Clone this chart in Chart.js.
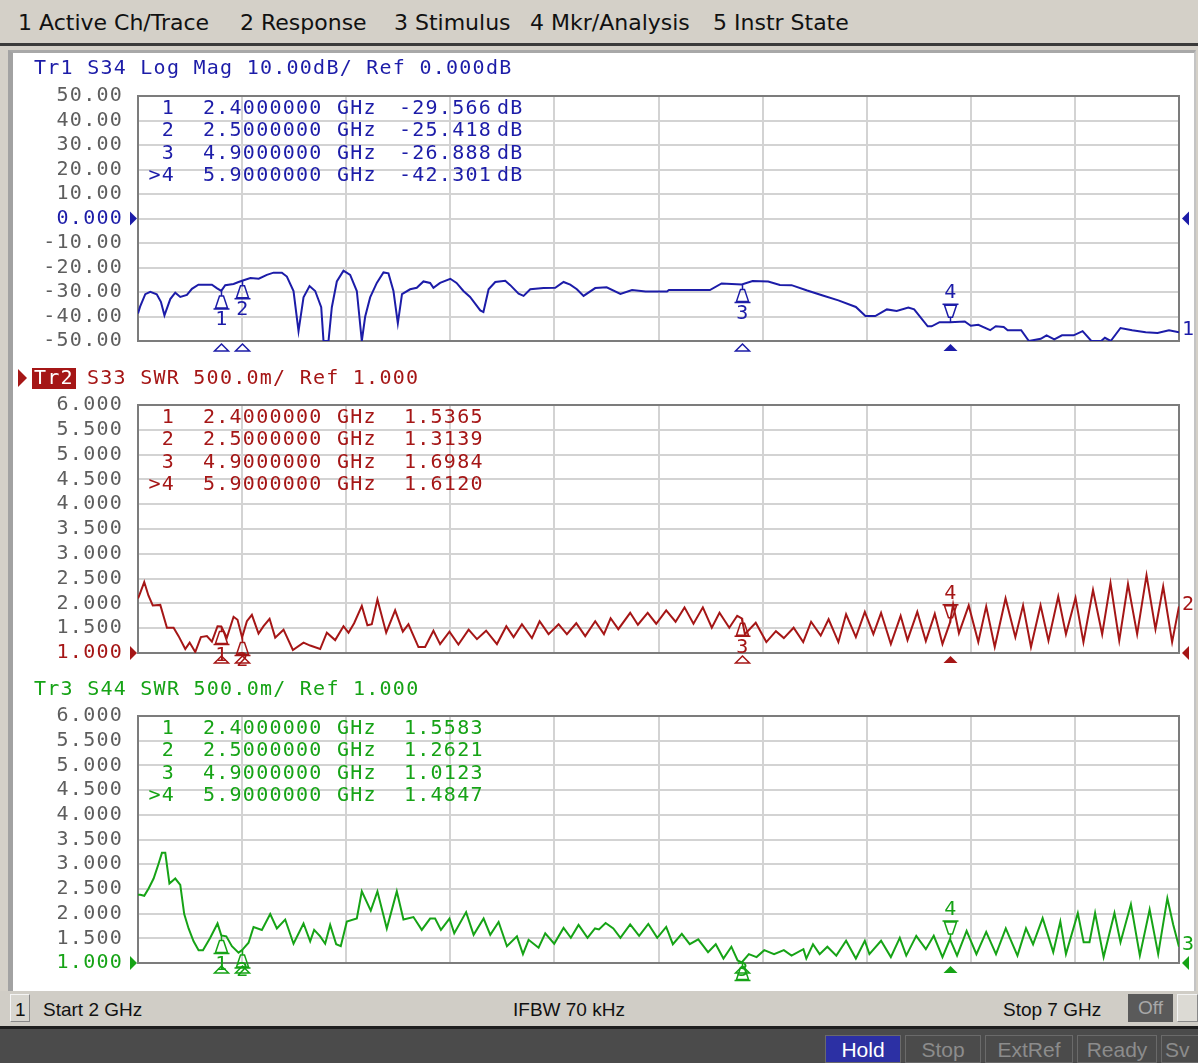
<!DOCTYPE html>
<html>
<head>
<meta charset="utf-8">
<script src="https://cdn.jsdelivr.net/npm/chart.js@4.4.1/dist/chart.umd.min.js"></script>
<style>
  html, body { margin: 0; padding: 0; }
  body { width: 1198px; height: 1063px; overflow: hidden; position: relative; background: #d4d0c8; }
  #menu { position: absolute; left: 0; top: 0; width: 1198px; height: 43px; background: #d4d0c8;
          font: 22px "DejaVu Sans", sans-serif; color: #111; }
  #menu span { position: absolute; top: 10px; white-space: nowrap; letter-spacing: 0px; }
  #menuLine { position: absolute; left: 0; top: 43px; width: 1198px; height: 3px; background: #3a3a3a; }
  #screen { position: absolute; left: 8px; top: 50px; width: 1188px; height: 941px; background: #fff;
            box-sizing: border-box; border-left: 5px solid #a2a2a2; border-top: 3px solid #a8a8a8; border-right: 2px solid #c4c4c4; }
  canvas { position: absolute; left: 0; }
  #status { position: absolute; left: 0; top: 991px; width: 1198px; height: 35px; background: #d0cdc6;
            font: 19px "Liberation Sans Narrow", "Liberation Sans", sans-serif; color: #111; }
  #status .t { position: absolute; top: 8px; white-space: nowrap; }
  #chBox { position: absolute; left: 10px; top: 3px; width: 20px; height: 28px; box-sizing: border-box;
           border: 1px solid #f4f4f4; border-right-color: #888; border-bottom-color: #888; background: #d8d6d0; }
  #offBox { position: absolute; left: 1128px; top: 3px; width: 45px; height: 28px; background: #5a5a5a; color: #a8a8a8;
            text-align: center; line-height: 28px; }
  #endBox { position: absolute; left: 1177px; top: 3px; width: 21px; height: 28px; box-sizing: border-box;
            border: 1px solid #f4f4f4; border-right-color: #888; border-bottom-color: #888; background: #dcdad4; }
  #barLine { position: absolute; left: 0; top: 1026px; width: 1198px; height: 3px; background: #1e1e1e; }
  #bar { position: absolute; left: 0; top: 1029px; width: 1198px; height: 34px; background: #4b4b4b;
         font: 21px "Liberation Sans Narrow", "Liberation Sans", sans-serif; }
  #bar div { position: absolute; top: 6px; height: 28px; line-height: 28px; text-align: center; box-sizing: border-box; }
  .dim { color: #8c8c8c; border: 1px solid #6a6a6a; }
</style>
</head>
<body>
<div id="menu">
  <span style="left:18px">1 Active Ch/Trace</span>
  <span style="left:240px">2 Response</span>
  <span style="left:394px">3 Stimulus</span>
  <span style="left:530px">4 Mkr/Analysis</span>
  <span style="left:713px">5 Instr State</span>
</div>
<div id="menuLine"></div>
<div id="screen"></div>
<canvas id="c1" width="1198" height="316" style="top:52px"></canvas>
<canvas id="c2" width="1198" height="312" style="top:368px"></canvas>
<canvas id="c3" width="1198" height="310" style="top:680px"></canvas>
<div id="status">
  <div id="chBox"></div>
  <div class="t" style="left:15px">1</div>
  <div class="t" style="left:43px">Start 2 GHz</div>
  <div class="t" style="left:513px">IFBW 70 kHz</div>
  <div class="t" style="left:1003px">Stop 7 GHz</div>
  <div id="offBox">Off</div>
  <div id="endBox"></div>
</div>
<div id="barLine"></div>
<div id="bar">
  <div style="left:825px;width:76px;background:#2c30a4;color:#fff;border:1px solid #6a6a6a">Hold</div>
  <div class="dim" style="left:905px;width:76px">Stop</div>
  <div class="dim" style="left:985px;width:88px">ExtRef</div>
  <div class="dim" style="left:1077px;width:80px">Ready</div>
  <div class="dim" style="left:1161px;width:60px;text-align:left;padding-left:3px">Sv</div>
</div>

<script>
// ---- Trace data: frequency (GHz) and measured value ----
const s34Freq = [2.000,2.010,2.035,2.059,2.090,2.110,2.127,2.155,2.179,2.203,2.235,2.259,2.290,2.355,2.380,2.400,2.419,2.459,2.480,2.500,
  2.540,2.580,2.619,2.651,2.691,2.715,2.747,2.771,2.795,2.824,2.851,2.880,2.891,2.915,2.931,2.955,2.987,3.019,3.051,3.075,
  3.091,3.115,3.147,3.179,3.203,3.227,3.248,3.268,3.307,3.339,3.371,3.403,3.419,3.451,3.500,3.530,3.563,3.595,3.644,3.659,
  3.684,3.716,3.764,3.788,3.828,3.852,3.884,3.948,4.004,4.044,4.076,4.108,4.140,4.196,4.251,4.317,4.373,4.438,4.541,4.550,
  4.747,4.803,4.900,4.952,5.027,5.083,5.139,5.214,5.289,5.364,5.448,5.494,5.541,5.597,5.644,5.700,5.728,5.793,5.812,5.850,
  5.900,5.971,6.000,6.036,6.093,6.120,6.158,6.177,6.242,6.279,6.336,6.364,6.401,6.438,6.494,6.537,6.579,6.626,6.644,6.672,
  6.719,6.775,6.840,6.897,6.952,7.000];
const s34LogMag = [-38.8,-36.0,-30.9,-29.9,-30.9,-34.0,-39.5,-32.9,-30.3,-32.0,-31.2,-28.7,-27.0,-27.0,-28.5,-29.566,-27.2,-26.7,-26.0,-25.418,
  -24.3,-24.6,-23.0,-22.1,-22.1,-23.7,-29.6,-46.0,-32.2,-27.6,-29.6,-36.2,-50.0,-50.0,-36.2,-25.7,-21.3,-23.0,-29.6,-50.0,
  -40.1,-32.2,-26.3,-22.0,-22.4,-29.6,-42.8,-30.9,-28.9,-28.3,-25.7,-26.3,-28.3,-26.3,-24.6,-26.3,-29.6,-32.0,-37.5,-38.2,
  -28.9,-25.9,-25.4,-27.2,-30.7,-31.6,-28.9,-28.4,-28.3,-25.9,-27.0,-28.9,-31.6,-28.4,-28.1,-30.8,-29.2,-29.8,-29.8,-29.2,
  -29.2,-26.5,-26.888,-25.5,-25.7,-27.1,-27.2,-29.4,-31.4,-33.4,-36.1,-39.8,-39.8,-37.1,-37.7,-36.3,-37.1,-44.0,-44.0,-42.3,
  -42.301,-42.0,-43.8,-43.4,-45.6,-44.0,-44.3,-45.6,-45.6,-50.0,-49.1,-47.7,-49.3,-47.7,-47.7,-46.0,-50.0,-50.0,-48.7,-50.0,
  -44.7,-45.6,-46.4,-46.7,-45.6,-46.4];

const s33Freq = [2.000,2.007,2.030,2.050,2.071,2.107,2.139,2.171,2.195,2.227,2.248,2.275,2.302,2.331,2.355,2.382,2.400,2.427,2.459,2.478,
  2.500,2.523,2.547,2.579,2.603,2.632,2.659,2.699,2.744,2.795,2.827,2.875,2.907,2.947,2.987,3.011,3.038,3.075,3.102,3.123,
  3.150,3.192,3.235,3.272,3.299,3.347,3.379,3.419,3.451,3.496,3.539,3.588,3.628,3.672,3.724,3.769,3.804,3.844,3.892,3.929,
  3.972,4.020,4.060,4.105,4.148,4.196,4.238,4.270,4.307,4.364,4.401,4.448,4.489,4.537,4.582,4.625,4.668,4.713,4.756,4.793,
  4.840,4.878,4.900,4.915,4.967,5.018,5.064,5.102,5.149,5.195,5.233,5.279,5.317,5.364,5.401,5.448,5.491,5.532,5.569,5.616,
  5.663,5.696,5.743,5.784,5.827,5.864,5.900,5.915,5.943,5.990,6.036,6.074,6.115,6.167,6.214,6.251,6.289,6.335,6.373,6.420,
  6.457,6.503,6.541,6.587,6.631,6.671,6.713,6.755,6.799,6.844,6.887,6.924,6.967,7.000];
const s33Swr = [2.10,2.17,2.43,2.16,1.96,1.97,1.51,1.51,1.34,1.08,1.21,1.02,1.32,1.34,1.23,1.54,1.5365,1.31,1.73,1.67,
  1.3139,1.64,1.77,1.39,1.54,1.69,1.31,1.47,1.06,1.21,1.15,1.08,1.41,1.26,1.54,1.41,1.60,1.95,1.56,1.58,
  2.08,1.41,1.86,1.43,1.58,1.12,1.12,1.45,1.18,1.43,1.17,1.47,1.28,1.45,1.18,1.54,1.32,1.58,1.30,1.64,
  1.38,1.58,1.38,1.60,1.34,1.64,1.38,1.70,1.48,1.81,1.57,1.81,1.59,1.86,1.63,1.92,1.59,1.92,1.51,1.81,
  1.51,1.75,1.6984,1.38,1.61,1.22,1.44,1.30,1.51,1.22,1.63,1.35,1.68,1.22,1.78,1.32,1.83,1.38,1.81,1.18,
  1.75,1.26,1.83,1.24,1.79,1.18,1.612,1.98,1.40,1.96,1.22,1.94,1.12,2.10,1.32,1.96,1.12,1.96,1.25,2.14,
  1.38,2.11,1.22,2.27,1.38,2.41,1.25,2.39,1.38,2.57,1.48,2.34,1.22,1.94];

const s44Freq = [2.000,2.011,2.030,2.051,2.075,2.098,2.115,2.131,2.151,2.179,2.203,2.222,2.243,2.267,2.291,2.312,2.347,2.382,2.400,2.424,
  2.451,2.483,2.500,2.531,2.555,2.595,2.635,2.667,2.707,2.747,2.795,2.827,2.846,2.875,2.899,2.923,2.952,2.974,3.003,3.051,
  3.075,3.118,3.150,3.195,3.243,3.275,3.323,3.363,3.403,3.427,3.455,3.496,3.519,3.576,3.612,3.660,3.692,3.732,3.772,3.820,
  3.849,3.876,3.924,3.956,3.999,4.044,4.079,4.116,4.159,4.195,4.214,4.246,4.283,4.317,4.364,4.407,4.451,4.494,4.537,4.569,
  4.612,4.650,4.691,4.738,4.775,4.812,4.850,4.880,4.900,4.934,4.971,5.008,5.055,5.102,5.139,5.196,5.210,5.242,5.274,5.311,
  5.354,5.401,5.448,5.491,5.513,5.569,5.616,5.659,5.690,5.738,5.784,5.822,5.864,5.900,5.934,5.980,6.027,6.074,6.121,6.168,
  6.224,6.265,6.299,6.345,6.396,6.430,6.457,6.514,6.542,6.570,6.597,6.638,6.690,6.719,6.769,6.812,6.859,6.900,6.944,6.972,
  7.000];
const s44Swr = [2.38,2.38,2.36,2.51,2.71,3.00,3.23,3.23,2.61,2.71,2.58,1.99,1.70,1.44,1.26,1.26,1.51,1.80,1.5583,1.54,
  1.34,1.21,1.2621,1.41,1.73,1.67,1.99,1.70,1.88,1.39,1.80,1.44,1.67,1.54,1.39,1.77,1.38,1.34,1.84,1.90,
  2.45,2.06,2.45,1.70,2.45,1.88,1.93,1.67,1.90,1.90,1.67,1.90,1.60,2.03,1.57,1.90,1.57,1.83,1.34,1.54,
  1.18,1.47,1.31,1.60,1.39,1.71,1.51,1.77,1.51,1.70,1.68,1.81,1.70,1.51,1.78,1.55,1.79,1.51,1.73,1.38,
  1.59,1.38,1.48,1.22,1.38,1.09,1.33,1.05,1.0123,1.18,1.12,1.26,1.18,1.26,1.15,1.28,1.09,1.38,1.18,1.33,
  1.15,1.45,1.09,1.45,1.18,1.45,1.12,1.51,1.15,1.55,1.28,1.55,1.12,1.4847,1.15,1.65,1.18,1.63,1.18,1.70,
  1.15,1.70,1.38,1.91,1.22,1.84,1.18,2.01,1.42,1.42,2.01,1.12,2.01,1.42,2.19,1.15,2.08,1.18,2.31,1.78,
  1.33];

// ---- Markers ----
const markerNames = ['1', '2', '3', '>4'];
const markerFreqs = [2.4, 2.5, 4.9, 5.9];
const s34Markers = [-29.566, -25.418, -26.888, -42.301];
const s33Markers = [1.5365, 1.3139, 1.6984, 1.6120];
const s44Markers = [1.5583, 1.2621, 1.0123, 1.4847];

// ---- Axis settings ----
const freqStart = 2, freqStop = 7, freqDiv = 0.5;
const logMagTicks = { min: -50, max: 50, step: 10, ref: 0 };
const swrTicks = { min: 1, max: 6, step: 0.5, ref: 1 };

const MONO = '20px "DejaVu Sans Mono", monospace';
const SPACING = '1.25px';
const BLUE = '#1c1ca8', RED = '#a51616', GREEN = '#16a316', TICKGREY = '#5e5e5e';

function toPoints(xs, ys) { return xs.map((x, i) => ({ x: x, y: ys[i] })); }

function tri(ctx, pts, fill) {
  ctx.beginPath();
  ctx.moveTo(pts[0][0], pts[0][1]);
  for (let i = 1; i < pts.length; i++) ctx.lineTo(pts[i][0], pts[i][1]);
  ctx.closePath();
  if (fill) ctx.fill(); else ctx.stroke();
}

// Draws the analyzer decorations: frame, title, marker table, marker glyphs, reference arrows
const vnaPlugin = {
  id: 'vna',
  beforeDraw(chart) {
    chart.ctx.letterSpacing = SPACING;
  },
  beforeDatasetsDraw(chart) {
    const { ctx, chartArea: a } = chart;
    ctx.save();
    ctx.strokeStyle = '#7c7c7c';
    ctx.lineWidth = 2;
    ctx.strokeRect(a.left, a.top, a.right - a.left, a.bottom - a.top);
    ctx.restore();
  },
  afterDatasetsDraw(chart, args, o) {
    const { ctx, chartArea: a } = chart;
    const xs = chart.scales.x, ys = chart.scales.y;
    const cw = 13.25;
    ctx.save();
    ctx.letterSpacing = SPACING;
    ctx.font = MONO;
    ctx.textBaseline = 'middle';
    ctx.fillStyle = o.color;
    ctx.strokeStyle = o.color;

    // title line
    let tx = 34;
    if (o.active) {
      tri(ctx, [[18, o.titleY - 9], [27, o.titleY], [18, o.titleY + 9]], true);
      ctx.fillRect(32, o.titleY - 11, 44, 22);
      ctx.fillStyle = '#fff';
      ctx.textAlign = 'left';
      ctx.fillText(o.trace, tx, o.titleY + 1);
      ctx.fillStyle = o.color;
      ctx.fillText(o.title, tx + cw * 4, o.titleY + 1);
    } else {
      ctx.textAlign = 'left';
      ctx.fillText(o.trace + ' ' + o.title, tx, o.titleY + 1);
    }

    // marker table
    markerNames.forEach((name, i) => {
      const y = a.top + 12.5 + i * 22.5;
      ctx.textAlign = 'right';
      ctx.fillText(name, a.left + 37, y);
      ctx.textAlign = 'left';
      ctx.fillText(markerFreqs[i].toFixed(7), a.left + 65, y);
      ctx.fillText('GHz', a.left + 199, y);
      ctx.fillText(o.markers[i].toFixed(o.digits), a.left + o.valueX, y);
      if (o.unit) ctx.fillText(o.unit, a.left + 359, y);
    });

    // marker glyphs on the trace
    ctx.lineWidth = 1.5;
    markerFreqs.forEach((f, i) => {
      const x = Math.round(xs.getPixelForValue(f)) + 0.5;
      const y = ys.getPixelForValue(o.markers[i]);
      const d = i === 3 ? -1 : 1;
      ctx.beginPath();
      ctx.moveTo(x, y); ctx.lineTo(x, y + d * 5);
      ctx.moveTo(x - 2, y + d * 5); ctx.lineTo(x + 2, y + d * 5);
      ctx.lineTo(x + 6, y + d * 17); ctx.lineTo(x - 6, y + d * 17); ctx.closePath();
      ctx.moveTo(x - 8, y + d * 18); ctx.lineTo(x + 8, y + d * 18);
      ctx.stroke();
      ctx.textAlign = 'center';
      const ny = Math.min(y + d * 29, a.bottom + 8);
      ctx.fillText(String(i + 1), x + 0.5, ny);
      // indicator under the axis
      const b = a.bottom + 3;
      tri(ctx, [[x, b], [x - 7, b + 7], [x + 7, b + 7]], i === 3);
    });

    // reference level arrows
    const ry = ys.getPixelForValue(o.ref);
    tri(ctx, [[a.left - 8, ry - 7], [a.left - 1, ry], [a.left - 8, ry + 7]], true);
    tri(ctx, [[a.right + 10, ry - 7], [a.right + 3, ry], [a.right + 10, ry + 7]], true);

    // trace number at the right end
    const ds = chart.data.datasets[0].data;
    const ly = ys.getPixelForValue(ds[ds.length - 1].y);
    ctx.textAlign = 'left';
    ctx.fillText(o.traceNo, a.right + 3, ly - 2);
    ctx.restore();
  }
};

function makeChart(id, freqs, values, cfg) {
  const t = cfg.ticks;
  return new Chart(document.getElementById(id), {
    type: 'line',
    data: {
      datasets: [{
        data: toPoints(freqs, values),
        borderColor: cfg.color,
        borderWidth: 2,
        pointRadius: 0,
        tension: 0,
        fill: false
      }]
    },
    options: {
      responsive: false,
      animation: false,
      devicePixelRatio: 1,
      parsing: false,
      layout: { padding: cfg.padding },
      plugins: {
        legend: { display: false },
        tooltip: { enabled: false },
        vna: cfg.deco
      },
      scales: {
        x: {
          type: 'linear', min: freqStart, max: freqStop,
          ticks: { display: false, stepSize: freqDiv, autoSkip: false },
          grid: { color: '#d3d3d3', lineWidth: 2, drawTicks: false },
          border: { display: false },
          afterFit(s) { s.height = 0; }
        },
        y: {
          type: 'linear', min: t.min, max: t.max,
          ticks: {
            stepSize: t.step,
            autoSkip: false,
            padding: 15,
            font: { family: '"DejaVu Sans Mono", monospace', size: 20 },
            color: c => (c.tick && Math.abs(c.tick.value - t.ref) < 1e-9) ? cfg.color : TICKGREY,
            callback: cfg.fmt
          },
          grid: { color: '#d3d3d3', lineWidth: 2, drawTicks: false },
          border: { display: false },
          afterFit(s) { s.width = 138; }
        }
      }
    },
    plugins: [vnaPlugin]
  });
}

makeChart('c1', s34Freq, s34LogMag, {
  color: BLUE, ticks: logMagTicks,
  padding: { top: 44, bottom: 19, left: 0, right: 19 },
  fmt: v => (v === 0 ? '0.000' : v.toFixed(2)),
  deco: { color: BLUE, trace: 'Tr1', title: 'S34 Log Mag 10.00dB/ Ref 0.000dB', titleY: 16,
          active: false, markers: s34Markers, digits: 3, valueX: 261, unit: 'dB', ref: 0, traceNo: '1' }
});
makeChart('c2', s33Freq, s33Swr, {
  color: RED, ticks: swrTicks,
  padding: { top: 37, bottom: 20, left: 0, right: 19 },
  fmt: v => v.toFixed(3),
  deco: { color: RED, trace: 'Tr2', title: 'S33 SWR 500.0m/ Ref 1.000', titleY: 10,
          active: true, markers: s33Markers, digits: 4, valueX: 266, unit: '', ref: 1, traceNo: '2' }
});
makeChart('c3', s44Freq, s44Swr, {
  color: GREEN, ticks: swrTicks,
  padding: { top: 36, bottom: 18, left: 0, right: 19 },
  fmt: v => v.toFixed(3),
  deco: { color: GREEN, trace: 'Tr3', title: 'S44 SWR 500.0m/ Ref 1.000', titleY: 9,
          active: false, markers: s44Markers, digits: 4, valueX: 266, unit: '', ref: 1, traceNo: '3' }
});
</script>
</body>
</html>
